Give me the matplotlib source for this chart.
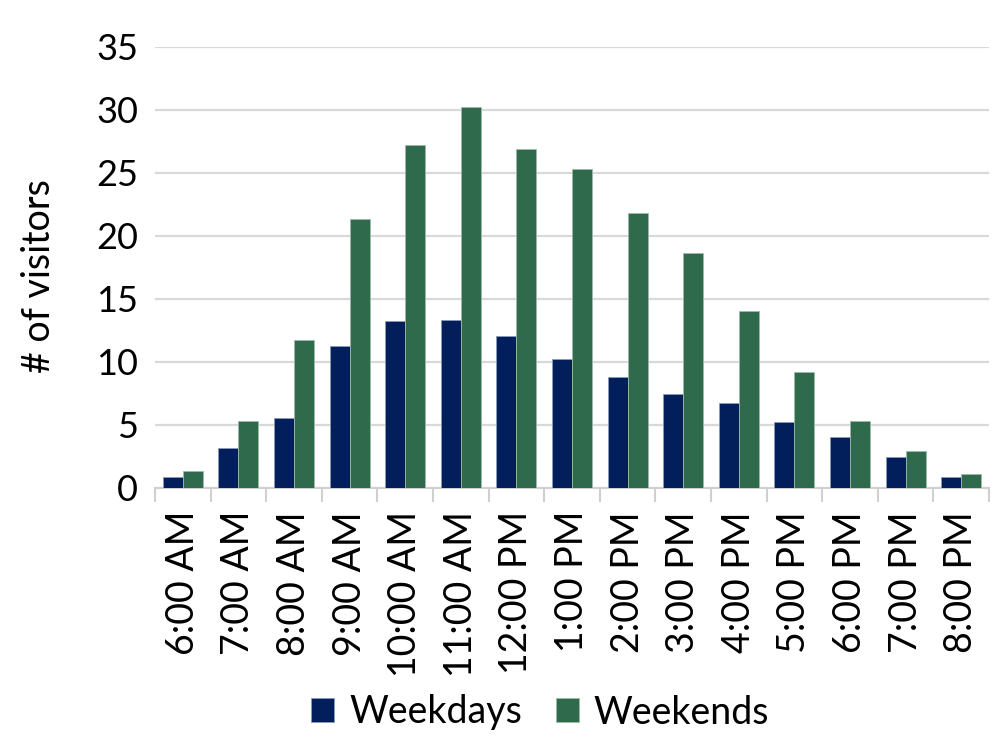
import numpy as np
import matplotlib
matplotlib.use("Agg")
import matplotlib.pyplot as plt
from matplotlib.ticker import FixedLocator

# ------------------------------------------------------------------
# Data
# ------------------------------------------------------------------
hours = ["6:00 AM", "7:00 AM", "8:00 AM", "9:00 AM", "10:00 AM", "11:00 AM",
         "12:00 PM", "1:00 PM", "2:00 PM", "3:00 PM", "4:00 PM", "5:00 PM",
         "6:00 PM", "7:00 PM", "8:00 PM"]
weekdays = [0.86, 3.1, 5.55, 11.2, 13.2, 13.3, 12.05, 10.2, 8.8, 7.4,
            6.7, 5.2, 4.0, 2.4, 0.8]
weekends = [1.3, 5.3, 11.7, 21.3, 27.2, 30.2, 26.9, 25.3, 21.8, 18.6,
            14.0, 9.2, 5.3, 2.9, 1.1]

blue = "#021f5c"
green = "#2e6a4b"

plt.rcParams["font.family"] = ["Lato", "DejaVu Sans"]

# ------------------------------------------------------------------
# Plot
# ------------------------------------------------------------------
fig = plt.figure(figsize=(10, 7.5), dpi=100)
ax = fig.add_axes([0.155, 0.35, 0.834, 0.588])

x = np.arange(len(hours))
w = 0.36
ax.bar(x - w / 2, weekdays, w, color=blue, edgecolor="#8a9bb8",
       linewidth=0.6, label="Weekdays", zorder=3)
ax.bar(x + w / 2, weekends, w, color=green, edgecolor="#9dbba9",
       linewidth=0.6, label="Weekends", zorder=3)

ax.set_xlim(-0.5, len(hours) - 0.5)
ax.set_ylim(0, 35)
ax.set_yticks(range(0, 36, 5))
ax.tick_params(axis="y", length=0, pad=12, labelsize=26)

ax.set_xticks(x)
ax.set_xticklabels(hours, rotation=90, fontsize=27)
ax.tick_params(axis="x", which="major", length=0, pad=17)
ax.xaxis.set_minor_locator(FixedLocator(np.arange(-0.5, len(hours), 1)))
ax.tick_params(axis="x", which="minor", length=10, width=1.5,
               color="#d0d0d0")

ax.grid(axis="y", color="#d9d9d9", linewidth=1.6, zorder=0)
for s in ["left", "right", "top"]:
    ax.spines[s].set_visible(False)
ax.spines["bottom"].set_color("#d0d0d0")
ax.spines["bottom"].set_linewidth(1.5)

ax.set_ylabel("# of visitors", fontsize=27)
ax.yaxis.set_label_coords(-0.118, 0.48)

fig.legend(loc="center", bbox_to_anchor=(0.54, 0.05), ncol=2,
           frameon=False, fontsize=27, handlelength=0.62, handleheight=0.62,
           handletextpad=0.4, columnspacing=0.9)

fig.savefig("out.png", dpi=100)
